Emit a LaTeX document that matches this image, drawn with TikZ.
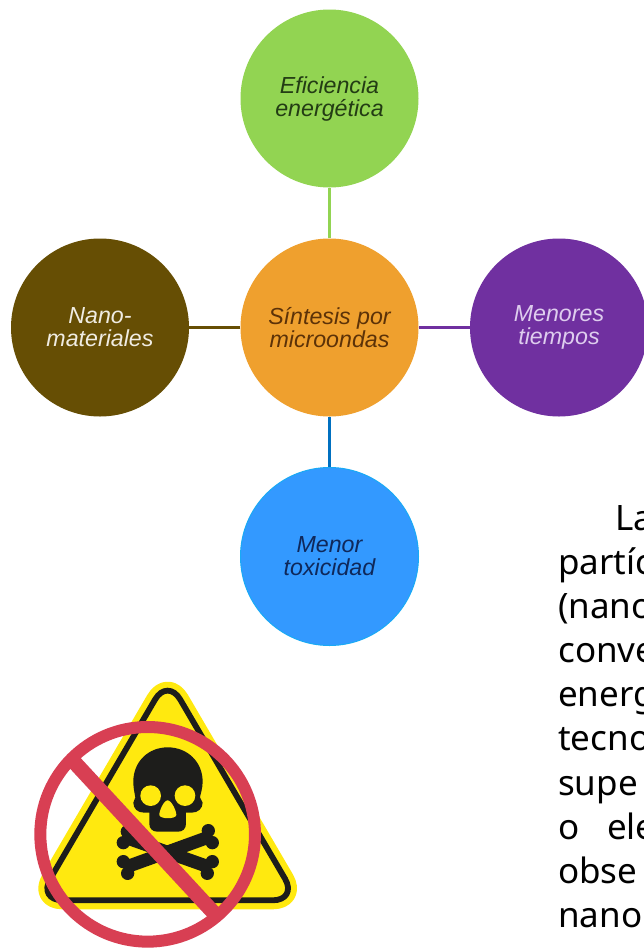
\documentclass[tikz,border=0pt]{standalone}
\usepackage{fontspec}
\setmainfont{Liberation Sans}
\newfontfamily\bodyfont{Noto Sans}
\definecolor{cgreen}{HTML}{92D452}
\definecolor{corange}{HTML}{EFA02E}
\definecolor{cpurple}{HTML}{7030A0}
\definecolor{cbrown}{HTML}{664E04}
\definecolor{cblue}{HTML}{3399FF}
\definecolor{lblue}{HTML}{0070C0}
\definecolor{signy}{HTML}{FFE90F}
\definecolor{signk}{HTML}{1D1D1B}
\definecolor{signr}{HTML}{D83F53}
\tikzset{
  bubble/.style={circle,minimum size=178pt,inner sep=0pt,align=center,
    font=\fontsize{23.2}{23}\selectfont\itshape},
  link/.style={line width=2.6pt},
  bodyline/.style={anchor=base west,inner sep=0pt,font=\bodyfont\fontsize{35}{44}\selectfont,text=black},
}
\begin{document}
\begin{tikzpicture}[x=1pt,y=-1pt]
\useasboundingbox (0,0) rectangle (644,948);
\clip (0,0) rectangle (644,948);
\fill[white] (0,0) rectangle (644,948);
% bubbles
\node[bubble,fill=cgreen,text={rgb,255:red,35;green,60;blue,20}] (top) at (329.5,98.5) {Eficiencia\\energética};
\node[bubble,fill=corange,text={rgb,255:red,92;green,50;blue,8}] (mid) at (329.5,327.5) {Síntesis por\\microondas};
\node[bubble,fill=cpurple,text={rgb,255:red,222;green,205;blue,238}] (right) at (559,327.5) {Menores\\tiempos};
\node[bubble,fill=cbrown,text={rgb,255:red,240;green,236;blue,226}] (left) at (100,327.5) {Nano-\\materiales};
\node[bubble,fill=cblue,draw={rgb,255:red,25;green,170;blue,245},line width=1pt,text={rgb,255:red,15;green,40;blue,90}] (bot) at (329.5,556.5) {Menor\\toxicidad};
% connectors
\draw[link,cgreen] (mid) -- (top);
\draw[link,cpurple] (mid) -- (right);
\draw[link,cbrown] (mid) -- (left);
\draw[link,lblue] (mid) -- (bot);
% clipped body text
\node[bodyline] (l1) at (615,530) {La};
\node[bodyline] (l2) at (558,574) {partíc};
\node[bodyline] (l3) at (558,618) {(nano};
\node[bodyline] (l4) at (558,662) {conve};
\node[bodyline] (l5) at (558,706) {energ};
\node[bodyline] (l6) at (558,750) {tecno};
\node[bodyline] (l7) at (558,795) {supe};
\node[bodyline] (l8) at (558,839) {o};
\node[bodyline] (l8b) at (607,839) {ele};
\node[bodyline] (l9) at (558,883) {obse};
\node[bodyline] (l10) at (558,927) {nano};
% warning sign (coordinates read at 3x)
\begin{scope}[shift={(0,660)},x=0.3333pt,y=-0.3333pt]
  \draw[signy,fill=signy,line width=18pt,rounded corners=25pt,line join=round] (503,54) -- (113,721) -- (893,721) -- cycle;
  \draw[signk,line width=5.8pt,rounded corners=25pt] (503,54) -- (113,721) -- (893,721) -- cycle;
  % skull
  \fill[signk] (400,365) .. controls (400,305) and (445,262) .. (503,262)
    .. controls (562,262) and (608,305) .. (608,365)
    .. controls (608,385) and (602,400) .. (600,412) -- (608,428)
    .. controls (608,445) and (595,458) .. (575,458) -- (558,458) -- (558,492)
    .. controls (558,506) and (548,515) .. (535,515) -- (472,515)
    .. controls (458,515) and (448,506) .. (448,492) -- (448,458) -- (432,458)
    .. controls (412,458) and (400,445) .. (400,428) -- (406,412)
    .. controls (404,400) and (400,385) .. (400,365) -- cycle;
  \fill[signy] (452,407) circle[radius=31];
  \fill[signy] (555,407) circle[radius=31];
  \fill[signy] (503,421) .. controls (515,421) and (530,455) .. (529,465)
    .. controls (528,478) and (480,478) .. (478,465)
    .. controls (477,455) and (491,421) .. (503,421) -- cycle;
  % bones
  \draw[signk,line width=13pt] (376,532) -- (630,622);
  \draw[signk,line width=13pt] (376,622) -- (630,530);
  \foreach \cx/\cy in {382/515,370/548,370/605,383/640,625/512,637/548,637/605,622/640}
    \fill[signk] (\cx,\cy) circle[radius=20];
  % prohibition
  \draw[signr,line width=12pt] (443,523) circle[radius=322];
  \draw[signr,line width=15pt] (215,298) -- (652,770);
\end{scope}
\end{tikzpicture}
\end{document}
